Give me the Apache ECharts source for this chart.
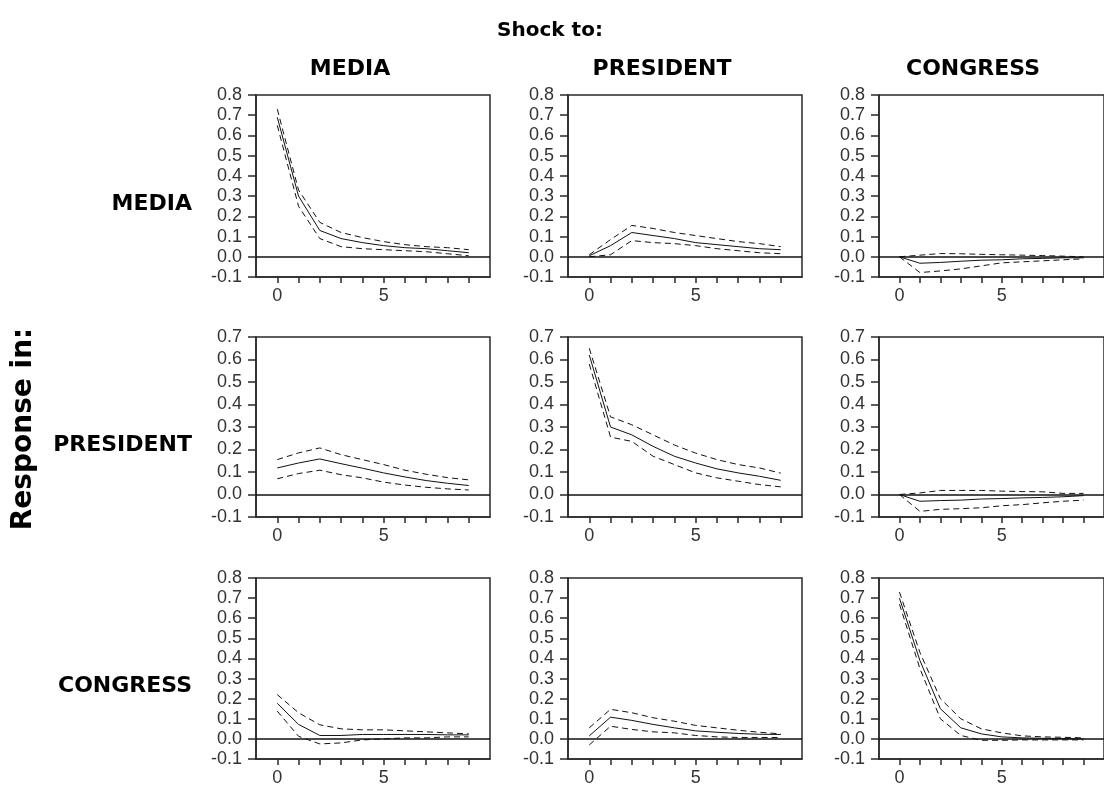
<!DOCTYPE html>
<html>
<head>
<meta charset="utf-8">
<title>Impulse responses</title>
<script src="https://cdn.jsdelivr.net/npm/echarts@6/dist/echarts.min.js"></script>
<style>
  html, body { margin: 0; padding: 0; background: #fff; }
  #chart { width: 1104px; height: 791px; }
</style>
</head>
<body>
<div id="chart"></div>
<script>
// periods after the shock
const steps = [0, 1, 2, 3, 4, 5, 6, 7, 8, 9]
const xLabelValues = [0, 5]
const shockNames = ['MEDIA', 'PRESIDENT', 'CONGRESS']
const responseNames = ['MEDIA', 'PRESIDENT', 'CONGRESS']
const yMin = -0.1
const yMaxByRow = [0.8, 0.7, 0.8]

// naming: <response>_<shock>, _hi / _lo = error bands
const media_media = [0.69, 0.30, 0.13, 0.09, 0.07, 0.055, 0.045, 0.04, 0.03, 0.02]
const media_media_hi = [0.73, 0.33, 0.17, 0.12, 0.095, 0.075, 0.06, 0.05, 0.045, 0.035]
const media_media_lo = [0.65, 0.25, 0.09, 0.05, 0.04, 0.035, 0.03, 0.025, 0.015, 0.005]

const media_president = [0.005, 0.055, 0.12, 0.105, 0.09, 0.07, 0.06, 0.05, 0.04, 0.035]
const media_president_hi = [0.01, 0.085, 0.155, 0.14, 0.12, 0.105, 0.09, 0.075, 0.065, 0.05]
const media_president_lo = [0.0, 0.01, 0.08, 0.07, 0.065, 0.055, 0.04, 0.03, 0.02, 0.015]

const media_congress = [0.0, -0.032, -0.028, -0.022, -0.017, -0.015, -0.01, -0.008, -0.005, -0.005]
const media_congress_hi = [0.0, 0.008, 0.016, 0.015, 0.012, 0.01, 0.008, 0.006, 0.003, 0.0]
const media_congress_lo = [0.0, -0.078, -0.07, -0.06, -0.045, -0.03, -0.025, -0.02, -0.015, -0.01]

const president_media = [0.118, 0.14, 0.158, 0.137, 0.117, 0.096, 0.078, 0.062, 0.05, 0.04]
const president_media_hi = [0.155, 0.185, 0.207, 0.177, 0.155, 0.133, 0.108, 0.09, 0.075, 0.065]
const president_media_lo = [0.07, 0.093, 0.108, 0.088, 0.074, 0.055, 0.042, 0.032, 0.025, 0.02]

const president_president = [0.62, 0.30, 0.265, 0.214, 0.17, 0.14, 0.114, 0.096, 0.081, 0.063]
const president_president_hi = [0.65, 0.345, 0.31, 0.265, 0.22, 0.184, 0.155, 0.133, 0.118, 0.095]
const president_president_lo = [0.58, 0.255, 0.236, 0.17, 0.133, 0.096, 0.074, 0.059, 0.044, 0.034]

const president_congress = [0.0, -0.03, -0.027, -0.025, -0.02, -0.018, -0.015, -0.013, -0.01, -0.005]
const president_congress_hi = [0.0, 0.007, 0.018, 0.018, 0.018, 0.015, 0.013, 0.012, 0.005, 0.005]
const president_congress_lo = [0.0, -0.075, -0.066, -0.063, -0.059, -0.05, -0.045, -0.037, -0.03, -0.025]

const congress_media = [0.177, 0.072, 0.017, 0.017, 0.022, 0.022, 0.022, 0.022, 0.02, 0.02]
const congress_media_hi = [0.22, 0.13, 0.07, 0.05, 0.045, 0.045, 0.04, 0.035, 0.03, 0.025]
const congress_media_lo = [0.138, 0.013, -0.025, -0.02, -0.005, 0.0, 0.005, 0.005, 0.01, 0.01]

const congress_president = [0.015, 0.108, 0.092, 0.072, 0.055, 0.04, 0.033, 0.027, 0.023, 0.022]
const congress_president_hi = [0.055, 0.147, 0.13, 0.105, 0.088, 0.067, 0.055, 0.043, 0.033, 0.025]
const congress_president_lo = [-0.03, 0.063, 0.047, 0.035, 0.03, 0.017, 0.01, 0.007, 0.007, 0.007]

const congress_congress = [0.70, 0.39, 0.15, 0.055, 0.025, 0.01, 0.005, 0.003, 0.002, 0.0]
const congress_congress_hi = [0.73, 0.43, 0.20, 0.10, 0.05, 0.03, 0.015, 0.01, 0.008, 0.005]
const congress_congress_lo = [0.67, 0.35, 0.10, 0.017, -0.007, -0.007, -0.005, -0.005, -0.005, -0.005]

// rows = response, cols = shock
const panels = [
  [media_media, media_media_hi, media_media_lo],
  [media_president, media_president_hi, media_president_lo],
  [media_congress, media_congress_hi, media_congress_lo],
  [president_media, president_media_hi, president_media_lo],
  [president_president, president_president_hi, president_president_lo],
  [president_congress, president_congress_hi, president_congress_lo],
  [congress_media, congress_media_hi, congress_media_lo],
  [congress_president, congress_president_hi, congress_president_lo],
  [congress_congress, congress_congress_hi, congress_congress_lo]
]

// layout (px)
const colLeft = [256, 568, 879]
const rowTop = [95, 337, 578]
const plotW = 234
const plotH = [182, 180, 181]
const rowLabelY = [204, 445, 686]

const axisColor = '#2a2a2a'
const numFont = 'Liberation Sans, Arial, sans-serif'
const titleFont = 'DejaVu Sans, Arial, sans-serif'

const toPairs = (vals) => steps.map((s, k) => [s, vals[k]])

const grids = []
const xAxes = []
const yAxes = []
const series = []

panels.forEach((p, i) => {
  const row = Math.floor(i / 3)
  const col = i % 3
  grids.push({
    show: true,
    left: colLeft[col],
    top: rowTop[row],
    width: plotW,
    height: plotH[row],
    borderColor: axisColor,
    borderWidth: 1.5,
    backgroundColor: 'transparent'
  })
  xAxes.push({
    gridIndex: i,
    type: 'value',
    min: -1,
    max: 10,
    interval: 1,
    axisLine: { onZero: false, lineStyle: { color: axisColor, width: 1.5 } },
    axisTick: { customValues: steps, length: 6, lineStyle: { color: axisColor, width: 1.5 } },
    axisLabel: { customValues: xLabelValues, margin: 10, fontSize: 18, color: '#333', fontFamily: numFont },
    splitLine: { show: false }
  })
  yAxes.push({
    gridIndex: i,
    type: 'value',
    min: yMin,
    max: yMaxByRow[row],
    interval: 0.1,
    axisLine: { show: true, onZero: false, lineStyle: { color: axisColor, width: 1.5 } },
    axisTick: { show: true, length: 8, lineStyle: { color: axisColor, width: 1.5 } },
    axisLabel: {
      margin: 14,
      fontSize: 18,
      color: '#333',
      fontFamily: numFont,
      formatter: (v) => v.toFixed(1)
    },
    splitLine: { show: false }
  })
  series.push({
    type: 'line',
    xAxisIndex: i,
    yAxisIndex: i,
    data: toPairs(p[0]),
    symbol: 'none',
    silent: true,
    lineStyle: { color: '#111', width: 1 },
    markLine: {
      silent: true,
      symbol: 'none',
      label: { show: false },
      lineStyle: { color: '#111', width: 1.5, type: 'solid' },
      data: [{ yAxis: 0 }]
    }
  })
  for (let b = 1; b <= 2; b++) {
    series.push({
      type: 'line',
      xAxisIndex: i,
      yAxisIndex: i,
      data: toPairs(p[b]),
      symbol: 'none',
      silent: true,
      lineStyle: { color: '#111', width: 1, type: [6, 4] }
    })
  }
})

// titles
const graphics = [{
  type: 'text', x: 550, y: 31,
  style: { text: 'Shock to:', font: 'bold 20px ' + titleFont, fill: '#000', align: 'center', verticalAlign: 'middle' }
}, {
  type: 'text', x: 24, y: 429, rotation: Math.PI / 2,
  style: { text: 'Response in:', font: 'bold 28px ' + titleFont, fill: '#000', align: 'center', verticalAlign: 'middle' }
}]
shockNames.forEach((name, c) => {
  graphics.push({
    type: 'text', x: colLeft[c] + plotW / 2 - 23, y: 69,
    style: { text: name, font: 'bold 22px ' + titleFont, fill: '#000', align: 'center', verticalAlign: 'middle' }
  })
})
responseNames.forEach((name, r) => {
  graphics.push({
    type: 'text', x: 192, y: rowLabelY[r],
    style: { text: name, font: 'bold 22px ' + titleFont, fill: '#000', align: 'right', verticalAlign: 'middle' }
  })
})

const chart = echarts.init(document.getElementById('chart'), null, { renderer: 'canvas' })
chart.setOption({
  animation: false,
  backgroundColor: '#fff',
  grid: grids,
  xAxis: xAxes,
  yAxis: yAxes,
  series: series,
  graphic: graphics
})
</script>
</body>
</html>
